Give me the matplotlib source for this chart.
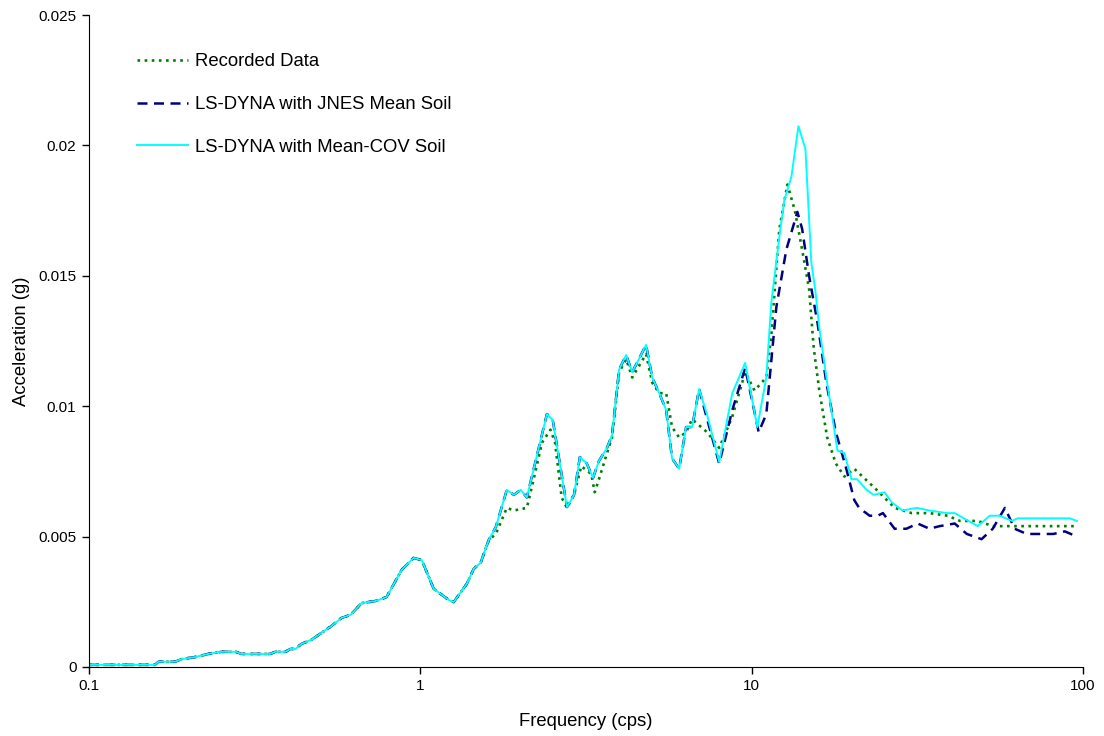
import numpy as np
import matplotlib.pyplot as plt
from matplotlib.ticker import FixedLocator, NullLocator, FixedFormatter

plt.rcParams['font.family'] = ['Liberation Sans', 'DejaVu Sans']

# --- shared low-frequency part (all three curves overlap here) ---
freq_low = [0.1, 0.158, 0.162, 0.182, 0.19, 0.209, 0.229, 0.251, 0.278, 0.288,
            0.352, 0.365, 0.392, 0.405, 0.42, 0.437, 0.469, 0.539, 0.578, 0.616,
            0.665, 0.733, 0.791, 0.878, 0.954, 1.01, 1.097, 1.218, 1.261, 1.38,
            1.449, 1.521, 1.609]
acc_low = [0.00008, 0.00008, 0.0002, 0.0002, 0.0003, 0.00038, 0.0005, 0.00058, 0.00058, 0.0005,
           0.0005, 0.00058, 0.00058, 0.00069, 0.00069, 0.00088, 0.00104, 0.00157, 0.00188, 0.0020,
           0.00245, 0.00253, 0.00268, 0.00372, 0.00418, 0.0041, 0.0030, 0.00257, 0.00249, 0.00318,
           0.00376, 0.0040, 0.00487]

# --- recorded data ---
freq_rec = [1.69, 1.824, 1.915, 2.096, 2.17, 2.33, 2.47, 2.55, 2.67, 2.77,
            2.91, 3.06, 3.28, 3.36, 3.46, 3.66, 3.79, 3.98, 4.18, 4.36,
            4.80, 5.01, 5.26, 5.52, 5.75, 6.04, 6.34, 6.61, 7.34, 7.98,
            8.74, 9.56, 10.2, 11.07, 11.46, 12.12, 12.82, 13.5, 14.2, 14.9,
            15.4, 16.0, 16.9, 17.95, 19.05, 20.4, 23.8, 27.0, 30.4, 34.4,
            39.0, 42.5, 48.1, 53.4, 95.8]
acc_rec = [0.0051, 0.0061, 0.0060, 0.0061, 0.0069, 0.0086, 0.0091, 0.0086, 0.0065, 0.0061,
           0.0066, 0.0077, 0.0074, 0.0067, 0.0072, 0.0082, 0.0088, 0.0113, 0.0118, 0.0111,
           0.0120, 0.0109, 0.0105, 0.0105, 0.0092, 0.0088, 0.0090, 0.0095, 0.0090, 0.0084,
           0.0096, 0.0113, 0.0106, 0.0111, 0.0127, 0.0168, 0.0185, 0.0175, 0.0160, 0.0145,
           0.0122, 0.0106, 0.0088, 0.0078, 0.0073, 0.0076, 0.0068, 0.0061, 0.0059, 0.0059,
           0.0058, 0.0056, 0.0056, 0.0054, 0.0054]

# --- LS-DYNA, JNES mean soil ---
freq_jnes = [1.69, 1.824, 1.915, 2.01, 2.096, 2.41, 2.51, 2.77, 2.91, 3.03,
             3.18, 3.32, 3.46, 3.66, 3.79, 3.98, 4.18, 4.36, 4.80, 5.01,
             5.26, 5.52, 5.75, 6.04, 6.34, 6.61, 6.94, 7.34, 7.98, 8.74,
             9.56, 10.5, 11.07, 11.87, 12.72, 13.74, 14.2, 14.9, 15.8, 16.8,
             17.95, 19.3, 20.4, 21.1, 22.7, 24.0, 24.9, 27.0, 29.3, 31.7,
             34.4, 36.9, 41.0, 44.6, 49.4, 53.4, 58.1, 62.2, 67.6, 74.1,
             81.3, 88.1, 95.8]
acc_jnes = [0.00537, 0.00679, 0.0066, 0.00679, 0.0065, 0.0097, 0.00947, 0.00613, 0.0066, 0.00805,
            0.0078, 0.00725, 0.0079, 0.0084, 0.0089, 0.0114, 0.01196, 0.0113, 0.01235, 0.0111,
            0.0105, 0.00985, 0.0080, 0.0076, 0.0092, 0.0092, 0.01066, 0.0095, 0.0078, 0.00985,
            0.01147, 0.0090, 0.0097, 0.0138, 0.0160, 0.01745, 0.0168, 0.0150, 0.0132, 0.0109,
            0.0090, 0.0076, 0.0064, 0.0061, 0.0058, 0.0058, 0.0059, 0.0053, 0.0053, 0.0055,
            0.0053, 0.0054, 0.0055, 0.0051, 0.0049, 0.0053, 0.0061, 0.0053, 0.0051, 0.0051,
            0.0051, 0.0052, 0.0050]

# --- LS-DYNA, mean-COV soil ---
freq_cov = [1.69, 1.824, 1.915, 2.01, 2.096, 2.41, 2.51, 2.77, 2.91, 3.03,
            3.18, 3.32, 3.46, 3.66, 3.79, 3.98, 4.18, 4.36, 4.80, 5.01,
            5.26, 5.52, 5.75, 6.04, 6.34, 6.61, 6.94, 7.34, 7.98, 8.74,
            9.56, 10.4, 11.07, 11.46, 12.12, 12.55, 13.18, 13.84, 14.53, 15.14,
            15.56, 16.0, 16.9, 18.15, 19.05, 20.0, 20.8, 22.2, 23.3, 25.2,
            26.4, 28.5, 31.5, 34.4, 38.8, 41.0, 48.1, 52.3, 56.1, 61.0,
            63.5, 91.2, 95.8]
acc_cov = [0.00537, 0.00679, 0.0066, 0.00679, 0.0065, 0.0097, 0.00947, 0.00613, 0.0066, 0.00805,
           0.0078, 0.00725, 0.0079, 0.0084, 0.0089, 0.0114, 0.01196, 0.0113, 0.01235, 0.0111,
           0.0105, 0.00985, 0.0080, 0.0076, 0.0092, 0.0092, 0.01066, 0.00966, 0.00786, 0.0105,
           0.01166, 0.0092, 0.0111, 0.01396, 0.0165, 0.0179, 0.0188, 0.02074, 0.01986, 0.01549,
           0.01445, 0.0130, 0.0109, 0.0083, 0.0082, 0.0072, 0.0072, 0.0068, 0.0066, 0.0067,
           0.00633, 0.0060, 0.0061, 0.0060, 0.0059, 0.0059, 0.0054, 0.0058, 0.0058, 0.0056,
           0.0057, 0.0057, 0.0056]

labels = ['Recorded Data', 'LS-DYNA with JNES Mean Soil', 'LS-DYNA with Mean-COV Soil']

fig = plt.figure(figsize=(11.04, 7.36), dpi=100)
ax = fig.add_axes([0.0806, 0.0938, 0.9004, 0.8858])

ax.plot(freq_low + freq_rec, acc_low + acc_rec, color='#008000', lw=1.9,
        linestyle=(0, (1, 1.7)), label=labels[0])
ax.plot(freq_low + freq_jnes, acc_low + acc_jnes, color='#000080', lw=1.8,
        linestyle=(0, (4, 2.6)), label=labels[1])
ax.plot(freq_low + freq_cov, acc_low + acc_cov, color='#00FFFF', lw=1.4,
        label=labels[2])

ax.set_xscale('log')
ax.set_xlim(0.1, 100)
ax.set_ylim(0, 0.025)
ax.xaxis.set_major_locator(FixedLocator([0.1, 1, 10, 100]))
ax.xaxis.set_major_formatter(FixedFormatter(['0.1', '1', '10', '100']))
ax.xaxis.set_minor_locator(NullLocator())
ax.set_yticks([0, 0.005, 0.01, 0.015, 0.02, 0.025])
ax.set_yticklabels(['0', '0.005', '0.01', '0.015', '0.02', '0.025'])
ax.tick_params(direction='out', length=5, width=1, labelsize=11, pad=4)
for s in ['top', 'right']:
    ax.spines[s].set_visible(False)

ax.set_xlabel('Frequency (cps)', fontsize=13.3, labelpad=14)
ax.set_ylabel('Acceleration (g)', fontsize=13.3, labelpad=6)

ax.legend(loc='upper left', bbox_to_anchor=(0.032, 0.967), frameon=False,
          fontsize=13.3, handlelength=2.75, handletextpad=0.38, labelspacing=1.4)

fig.savefig('out.png', dpi=100)
